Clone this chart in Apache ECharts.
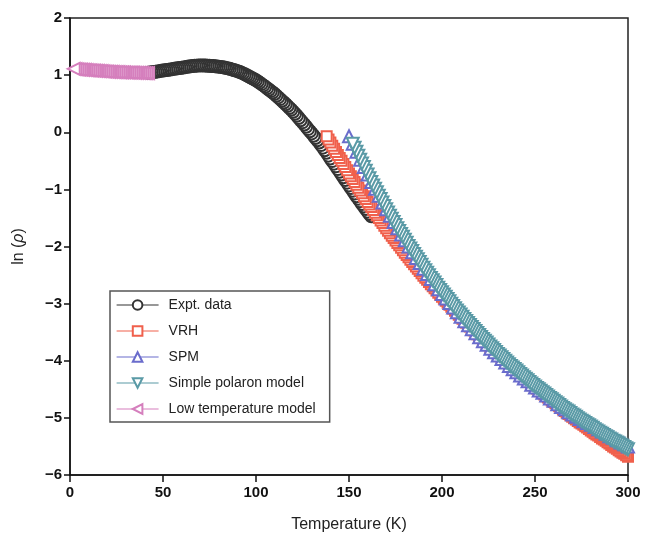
<!DOCTYPE html>
<html><head><meta charset="utf-8">
<script src="https://cdn.jsdelivr.net/npm/echarts@6.0.0/dist/echarts.min.js"></script>
<style>html,body{margin:0;padding:0;background:#fff}#c{width:646px;height:548px}</style>
</head><body><div id="c"></div>
<script>
// ---- data (temperature in K, ln(rho)) ----
const xTicks = [0, 50, 100, 150, 200, 250, 300];
const yTicks = [-6, -5, -4, -3, -2, -1, 0, 1, 2];
const seriesNames = ['Expt. data', 'VRH', 'SPM', 'Simple polaron model', 'Low temperature model'];

// Expt. data: 42 K .. 162 K, every 1 K
const exptStartT = 42, exptStepT = 1;
const exptV = [1.04,1.045,1.05,1.055,1.06,1.065,1.07,1.075,1.08,1.085,1.09,1.095,1.10,1.105,1.11,1.115,1.12,1.125,1.13,1.135,
  1.14,1.145,1.15,1.155,1.16,1.163,1.166,1.168,1.17,1.17,1.168,1.167,1.165,1.163,1.16,1.158,1.155,1.152,1.148,1.144,
  1.14,1.133,1.125,1.118,1.11,1.10,1.09,1.08,1.07,1.058,1.045,1.03,1.015,0.998,0.98,0.963,0.945,0.928,0.91,0.888,
  0.865,0.843,0.82,0.795,0.77,0.745,0.72,0.695,0.67,0.64,0.61,0.58,0.55,0.52,0.49,0.458,0.425,0.393,0.36,0.325,
  0.29,0.25,0.21,0.173,0.135,0.095,0.055,0.018,-0.02,-0.06,-0.10,-0.14,-0.18,-0.225,-0.27,-0.315,-0.36,-0.41,-0.46,-0.505,
  -0.55,-0.597,-0.645,-0.692,-0.74,-0.787,-0.835,-0.882,-0.93,-0.977,-1.025,-1.072,-1.12,-1.165,-1.21,-1.255,-1.30,-1.345,-1.39,-1.43,
  -1.47];

// VRH: 138 K .. 300 K, every 1 K
const vrhStartT = 138, vrhStepT = 1;
const vrhV = [-0.07,-0.125,-0.18,-0.235,-0.29,-0.345,-0.40,-0.45,-0.50,-0.555,-0.61,-0.665,-0.72,-0.77,-0.82,-0.87,-0.92,-0.97,-1.02,-1.07,
  -1.12,-1.17,-1.22,-1.265,-1.31,-1.36,-1.41,-1.455,-1.50,-1.545,-1.59,-1.635,-1.68,-1.725,-1.77,-1.81,-1.85,-1.895,-1.94,-1.98,
  -2.02,-2.065,-2.11,-2.15,-2.19,-2.23,-2.27,-2.31,-2.35,-2.39,-2.43,-2.47,-2.51,-2.545,-2.58,-2.62,-2.66,-2.695,-2.73,-2.77,
  -2.81,-2.845,-2.88,-2.915,-2.95,-2.985,-3.02,-3.055,-3.09,-3.125,-3.16,-3.195,-3.23,-3.265,-3.30,-3.335,-3.37,-3.40,-3.43,-3.465,
  -3.50,-3.535,-3.57,-3.60,-3.63,-3.66,-3.69,-3.725,-3.76,-3.79,-3.82,-3.85,-3.88,-3.91,-3.94,-3.97,-4.00,-4.03,-4.06,-4.085,
  -4.11,-4.14,-4.17,-4.20,-4.23,-4.26,-4.29,-4.315,-4.34,-4.37,-4.40,-4.43,-4.46,-4.485,-4.51,-4.535,-4.56,-4.59,-4.62,-4.645,
  -4.67,-4.695,-4.72,-4.745,-4.77,-4.795,-4.82,-4.85,-4.88,-4.905,-4.93,-4.955,-4.98,-5.005,-5.03,-5.055,-5.08,-5.10,-5.12,-5.145,
  -5.17,-5.195,-5.22,-5.245,-5.27,-5.29,-5.31,-5.335,-5.36,-5.38,-5.40,-5.425,-5.45,-5.475,-5.50,-5.52,-5.54,-5.565,-5.59,-5.61,
  -5.63,-5.655,-5.68];

// SPM: 150 K .. 300 K, every 2 K (mostly hidden under the simple polaron model)
const spmStartT = 150, spmStepT = 2;
const spmV = [-0.07,-0.20,-0.34,-0.48,-0.61,-0.74,-0.87,-0.99,-1.11,-1.23,-1.35,-1.46,-1.57,-1.68,-1.79,-1.89,-2.00,-2.10,-2.20,-2.29,
  -2.39,-2.48,-2.57,-2.66,-2.75,-2.83,-2.91,-2.99,-3.07,-3.15,-3.23,-3.31,-3.38,-3.45,-3.52,-3.59,-3.66,-3.72,-3.79,-3.85,
  -3.91,-3.97,-4.03,-4.09,-4.15,-4.20,-4.26,-4.31,-4.36,-4.42,-4.47,-4.52,-4.56,-4.61,-4.66,-4.70,-4.76,-4.81,-4.85,-4.90,
  -4.94,-4.98,-5.02,-5.06,-5.09,-5.12,-5.16,-5.20,-5.24,-5.28,-5.32,-5.35,-5.39,-5.43,-5.46,-5.50];

// Simple polaron model: 152 K .. 300 K, every 1 K
const spolStartT = 152, spolStepT = 1;
const spolV = [-0.20,-0.27,-0.34,-0.41,-0.48,-0.545,-0.61,-0.675,-0.74,-0.805,-0.87,-0.93,-0.99,-1.05,-1.11,-1.17,-1.23,-1.29,-1.35,-1.405,
  -1.46,-1.515,-1.57,-1.625,-1.68,-1.73,-1.78,-1.83,-1.88,-1.935,-1.99,-2.035,-2.08,-2.13,-2.18,-2.225,-2.27,-2.32,-2.37,-2.415,
  -2.46,-2.505,-2.55,-2.59,-2.63,-2.675,-2.72,-2.76,-2.80,-2.84,-2.88,-2.92,-2.96,-3.00,-3.04,-3.08,-3.12,-3.155,-3.19,-3.23,
  -3.27,-3.305,-3.34,-3.375,-3.41,-3.445,-3.48,-3.515,-3.55,-3.585,-3.62,-3.65,-3.68,-3.715,-3.75,-3.78,-3.81,-3.845,-3.88,-3.91,
  -3.94,-3.97,-4.00,-4.03,-4.06,-4.09,-4.12,-4.145,-4.17,-4.20,-4.23,-4.26,-4.29,-4.315,-4.34,-4.37,-4.40,-4.425,-4.45,-4.475,
  -4.50,-4.525,-4.55,-4.575,-4.60,-4.625,-4.65,-4.675,-4.70,-4.725,-4.75,-4.775,-4.80,-4.825,-4.85,-4.87,-4.89,-4.915,-4.94,-4.96,
  -4.98,-5.005,-5.03,-5.05,-5.07,-5.09,-5.11,-5.13,-5.15,-5.175,-5.20,-5.22,-5.24,-5.26,-5.28,-5.30,-5.32,-5.34,-5.36,-5.38,
  -5.40,-5.415,-5.43,-5.45,-5.47,-5.49,-5.51,-5.53,-5.55];

// Low temperature model: 2 K .. 42 K, every 1 K
const lowStartT = 2, lowStepT = 1;
const lowV = [1.11,1.105,1.10,1.098,1.095,1.093,1.09,1.088,1.085,1.083,1.08,1.078,1.075,1.073,1.07,1.068,1.065,1.063,1.06,1.058,
  1.057,1.055,1.054,1.052,1.051,1.05,1.048,1.047,1.046,1.045,1.044,1.043,1.042,1.041,1.04,1.039,1.038,1.038,1.037,1.036,1.036];

// pairs are reversed so that the first (lowest-T) marker is painted on top, as in the figure
function toPairs(startT, stepT, vals) { return vals.map((v, i) => [startT + i * stepT, v]).reverse(); }

const chart = echarts.init(document.getElementById('c'), null, {renderer: 'canvas'});
const FONT = '"Liberation Sans", Arial, sans-serif';
function mk(name, data, symbol, size, color, rotate, z) {
  return {
    type: 'line', name: name, data: data, symbol: symbol, symbolSize: size,
    symbolRotate: rotate, showSymbol: true, showAllSymbol: true,
    itemStyle: {color: color, borderColor: color, borderWidth: 1},
    lineStyle: {width: 0, opacity: 0, color: color},
    emphasis: {disabled: true}, z: z, animation: false, silent: true
  };
}
const option = {
  animation: false,
  backgroundColor: '#ffffff',
  grid: {left: 70, right: 18, top: 18, bottom: 73, show: true, borderColor: '#222', borderWidth: 1.5, backgroundColor: 'transparent'},
  legend: {
    orient: 'vertical', left: 110, top: 291,
    itemWidth: 42, itemHeight: 12, itemGap: 12,
    padding: [7, 14, 6, 6],
    borderColor: '#555', borderWidth: 1.5, backgroundColor: '#fff',
    textStyle: {fontFamily: FONT, fontSize: 14, color: '#222', padding: [0, 0, 0, 5]},
    lineStyle: {width: 1.2, opacity: 1},
    data: seriesNames
  },
  xAxis: {
    type: 'value', min: 0, max: 300, interval: 50,
    name: 'Temperature (K)', nameLocation: 'middle', nameGap: 42,
    nameTextStyle: {fontFamily: FONT, fontSize: 16, color: '#222'},
    axisLine: {show: true, onZero: false, lineStyle: {color: '#111', width: 1.5}},
    axisTick: {show: true, length: 7, lineStyle: {color: '#111', width: 1.5}},
    axisLabel: {fontFamily: FONT, fontSize: 15, fontWeight: 'bold', color: '#111', margin: 10,
      customValues: xTicks},
    splitLine: {show: false}
  },
  yAxis: {
    type: 'value', min: -6, max: 2, interval: 1,
    name: 'ln ({it|ρ})', nameLocation: 'middle', nameGap: 43, nameRotate: 90,
    nameTextStyle: {fontFamily: FONT, fontSize: 16, color: '#222',
      rich: {it: {fontFamily: FONT, fontSize: 16, fontStyle: 'italic', color: '#222'}}},
    axisLine: {show: true, onZero: false, lineStyle: {color: '#111', width: 1.5}},
    axisTick: {show: true, length: 6, lineStyle: {color: '#111', width: 1.5}},
    axisLabel: {fontFamily: FONT, fontSize: 15, fontWeight: 'bold', color: '#111', margin: 8,
      customValues: yTicks,
      formatter: v => String(v).replace('-', '\u2212')},
    splitLine: {show: false}
  },
  series: [
    mk(seriesNames[0], toPairs(exptStartT, exptStepT, exptV), 'emptyCircle', 12, '#333333', 0, 2),
    mk(seriesNames[1], toPairs(vrhStartT, vrhStepT, vrhV), 'emptyRect', 10, '#f0604c', 0, 3),
    mk(seriesNames[2], toPairs(spmStartT, spmStepT, spmV), 'emptyTriangle', 12, '#6a6ccc', 0, 4),
    mk(seriesNames[3], toPairs(spolStartT, spolStepT, spolV), 'emptyTriangle', 12, '#5a9aa6', 180, 5),
    mk(seriesNames[4], toPairs(lowStartT, lowStepT, lowV), 'emptyTriangle', 12, '#d57fbd', 90, 6)
  ]
};
chart.setOption(option);
</script></body></html>
